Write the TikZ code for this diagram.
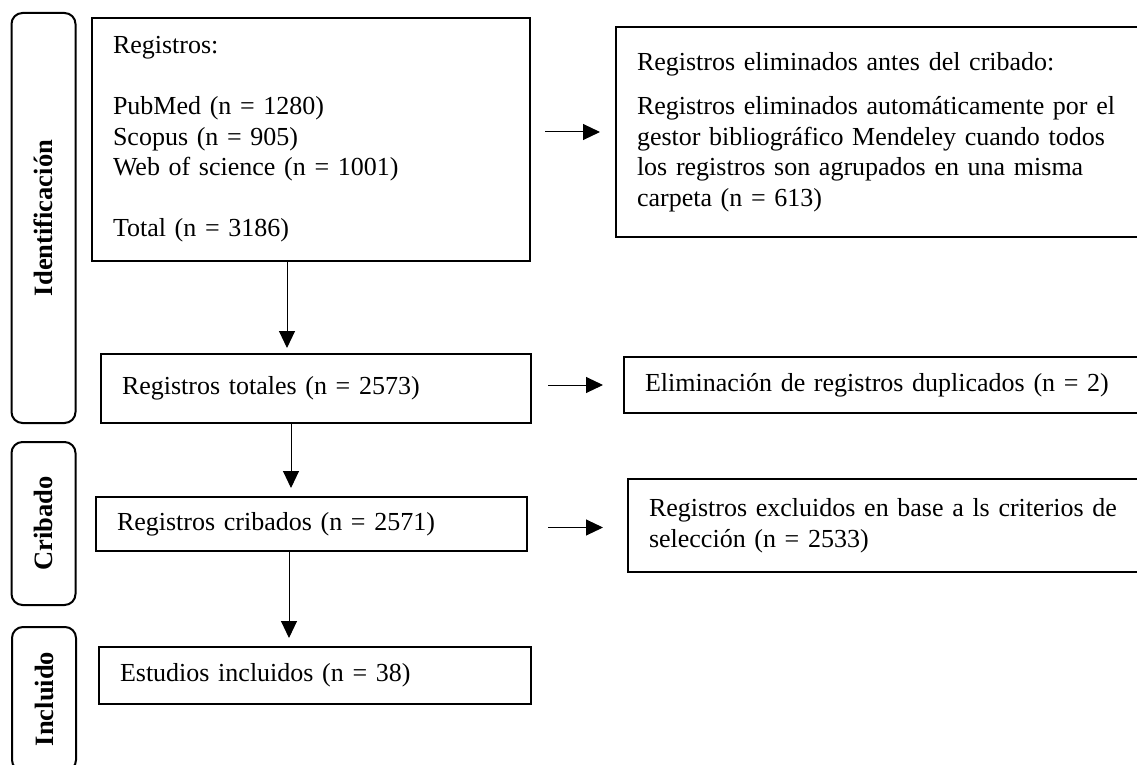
\documentclass[tikz,border=0pt]{standalone}
\usepackage{fontspec}
\setmainfont{Liberation Serif}
\usetikzlibrary{arrows.meta}
\begin{document}
\begin{tikzpicture}[x=1pt,y=-1pt,
  box/.style={draw, line width=2pt, rectangle, anchor=north west, outer sep=0pt,
    inner xsep=21pt, inner ysep=0pt, align=left,
    font=\fontsize{26}{30.5}\selectfont},
  lab/.style={draw, line width=2pt, rounded corners=11pt, rotate=90, outer sep=0pt,
    inner sep=0pt, minimum height=64pt, font=\fontsize{26.5}{30}\selectfont\bfseries},
  arr/.style={line width=1pt, -{Triangle[length=17pt,width=16pt]}}]
\useasboundingbox (0,0) rectangle (1137,765);
% stage labels
\node[lab, minimum width=410pt] (lid) at (43.5,218) {Identificación};
\node[lab, minimum width=163pt] (lcr) at (43.5,523.5) {Cribado};
\node[lab, minimum width=144pt] (lin) at (44,699) {Incluido};
% main boxes
\node[box, text width=396pt, minimum height=243pt] (b1) at (92,18)
  {Registros:\\[30.5pt]PubMed (n = 1280)\\Scopus (n = 905)\\Web of science (n = 1001)\\[30.5pt]Total (n = 3186)};
\node[box, text width=388pt, minimum height=69pt] (b2) at (101,354)
  {Registros totales (n = 2573)};
\node[box, text width=389pt, minimum height=54pt] (b3) at (96,497)
  {Registros cribados (n = 2571)};
\node[box, text width=390pt, minimum height=57pt] (b4) at (99,647)
  {Estudios incluidos (n = 38)};
% side boxes
\node[box, text width=487pt, minimum height=210pt] (r1) at (616,27)
  {Registros eliminados antes del cribado:\\[14pt]Registros eliminados automáticamente por el\\gestor bibliográfico Mendeley cuando todos\\los registros son agrupados en una misma\\carpeta (n = 613)};
\node[box, text width=479pt, minimum height=56pt] (r2) at (624,357)
  {Eliminación de registros duplicados (n = 2)};
\node[box, text width=475pt, minimum height=93pt] (r3) at (628,479)
  {Registros excluidos en base a ls criterios de\\selección (n = 2533)};
% vertical arrows
\draw[arr, shorten >=6pt] ([xshift=-24pt]b1.south) -- ([xshift=-24pt]b1.south |- b2.north);
\draw[arr, shorten >=9pt] ([xshift=-25pt]b2.south) -- ([xshift=-25pt]b2.south |- b3.north);
\draw[arr, shorten >=9pt] ([xshift=-22.5pt]b3.south) -- ([xshift=-22.5pt]b3.south |- b4.north);
% horizontal arrows
\draw[arr, shorten <=15pt, shorten >=16pt] (b1.east |- r1.west) -- (r1.west);
\draw[arr, shorten <=17pt, shorten >=21pt] (b2.east |- r2.west) -- (r2.west);
\draw[arr, shorten <=21pt, shorten >=25pt] ([yshift=-2pt]b3.east |- r3.west) -- ([yshift=-2pt]r3.west);
\end{tikzpicture}
\end{document}
